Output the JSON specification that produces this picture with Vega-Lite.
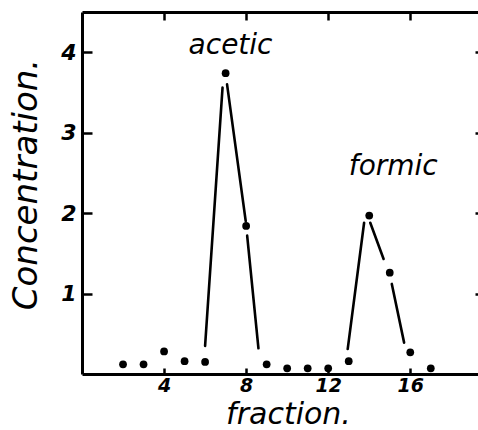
{
  "$schema": "https://vega.github.io/schema/vega-lite/v6.json",
  "autosize": "none",
  "width": 397,
  "height": 362,
  "padding": {"left": 82, "top": 12, "right": 0, "bottom": 56},
  "background": "white",
  "config": {"view": {"stroke": null}, "font": "DejaVu Sans"},
  "datasets": {
    "points": [
      {"fraction": 2, "conc": 0.12},
      {"fraction": 3, "conc": 0.12},
      {"fraction": 4, "conc": 0.28},
      {"fraction": 5, "conc": 0.16},
      {"fraction": 6, "conc": 0.15},
      {"fraction": 7, "conc": 3.74},
      {"fraction": 8, "conc": 1.84},
      {"fraction": 9, "conc": 0.12},
      {"fraction": 10, "conc": 0.07},
      {"fraction": 11, "conc": 0.07},
      {"fraction": 12, "conc": 0.07},
      {"fraction": 13, "conc": 0.16},
      {"fraction": 14, "conc": 1.97},
      {"fraction": 15, "conc": 1.26},
      {"fraction": 16, "conc": 0.27},
      {"fraction": 17, "conc": 0.07}
    ],
    "segments": [
      {"peak": "acetic", "x1": 6.0, "y1": 0.35, "x2": 6.85, "y2": 3.56},
      {"peak": "acetic", "x1": 7.07, "y1": 3.6, "x2": 7.98, "y2": 1.9},
      {"peak": "acetic", "x1": 8.05, "y1": 1.72, "x2": 8.6, "y2": 0.32},
      {"peak": "formic", "x1": 12.95, "y1": 0.31, "x2": 13.75, "y2": 1.88},
      {"peak": "formic", "x1": 14.05, "y1": 1.88, "x2": 14.7, "y2": 1.43},
      {"peak": "formic", "x1": 15.1, "y1": 1.12, "x2": 15.7, "y2": 0.39}
    ],
    "labels": [
      {"label": "acetic", "x": 7.24, "y": 4.08},
      {"label": "formic", "x": 15.17, "y": 2.57}
    ]
  },
  "resolve": {"axis": {"x": "independent", "y": "independent"}},
  "layer": [
    {
      "data": {"name": "segments"},
      "mark": {"type": "rule", "color": "black", "strokeWidth": 2.6, "strokeCap": "round"},
      "encoding": {
        "x": {
          "field": "x1", "type": "quantitative",
          "scale": {"domain": [0, 19.35], "nice": false, "zero": false},
          "axis": {
            "orient": "bottom", "values": [4, 8, 12, 16], "grid": false,
            "domainColor": "black", "domainWidth": 3,
            "tickColor": "black", "tickWidth": 2.5, "tickSize": -6,
            "labelFont": "DejaVu Sans", "labelFontSize": 19, "labelFontWeight": "bold", "labelFontStyle": "italic",
            "labelColor": "black", "labelPadding": 8,
            "title": "fraction.", "titleFont": "DejaVu Sans", "titleFontSize": 30, "titleFontStyle": "italic",
            "titleFontWeight": "normal", "titleColor": "black",
            "titleX": 206, "titleY": 49, "titleBaseline": "alphabetic", "titleAlign": "center"
          }
        },
        "y": {
          "field": "y1", "type": "quantitative",
          "scale": {"domain": [0, 4.5], "nice": false},
          "axis": {
            "orient": "left", "values": [1, 2, 3, 4], "grid": false,
            "domainColor": "black", "domainWidth": 3,
            "tickColor": "black", "tickWidth": 2.5, "tickSize": -10,
            "labelFont": "DejaVu Sans", "labelFontSize": 22, "labelFontWeight": "bold", "labelFontStyle": "italic",
            "labelColor": "black", "labelPadding": 16,
            "title": "Concentration.", "titleFont": "DejaVu Sans", "titleFontSize": 34, "titleFontStyle": "italic",
            "titleFontWeight": "normal", "titleColor": "black",
            "titleAngle": 270, "titleX": -46, "titleY": 172, "titleBaseline": "alphabetic", "titleAlign": "center"
          }
        },
        "x2": {"field": "x2"},
        "y2": {"field": "y2"}
      }
    },
    {
      "data": {"name": "points"},
      "mark": {"type": "circle", "color": "black", "opacity": 1, "size": 60},
      "encoding": {
        "x": {"field": "fraction", "type": "quantitative", "axis": null},
        "y": {"field": "conc", "type": "quantitative", "axis": null}
      }
    },
    {
      "data": {"name": "labels"},
      "mark": {"type": "text", "font": "DejaVu Sans", "fontStyle": "italic", "fontSize": 28, "color": "black", "align": "center", "baseline": "middle"},
      "encoding": {
        "x": {
          "field": "x", "type": "quantitative",
          "axis": {
            "orient": "top", "values": [4, 8, 12, 16], "grid": false, "labels": false, "title": null,
            "domainColor": "black", "domainWidth": 3, "tickColor": "black", "tickWidth": 2.5, "tickSize": -8
          }
        },
        "y": {
          "field": "y", "type": "quantitative",
          "axis": {
            "orient": "right", "values": [1, 2, 3, 4], "grid": false, "labels": false, "title": null,
            "domainColor": "black", "domainWidth": 3, "tickColor": "black", "tickWidth": 2.5, "tickSize": -4
          }
        },
        "text": {"field": "label"}
      }
    }
  ]
}
